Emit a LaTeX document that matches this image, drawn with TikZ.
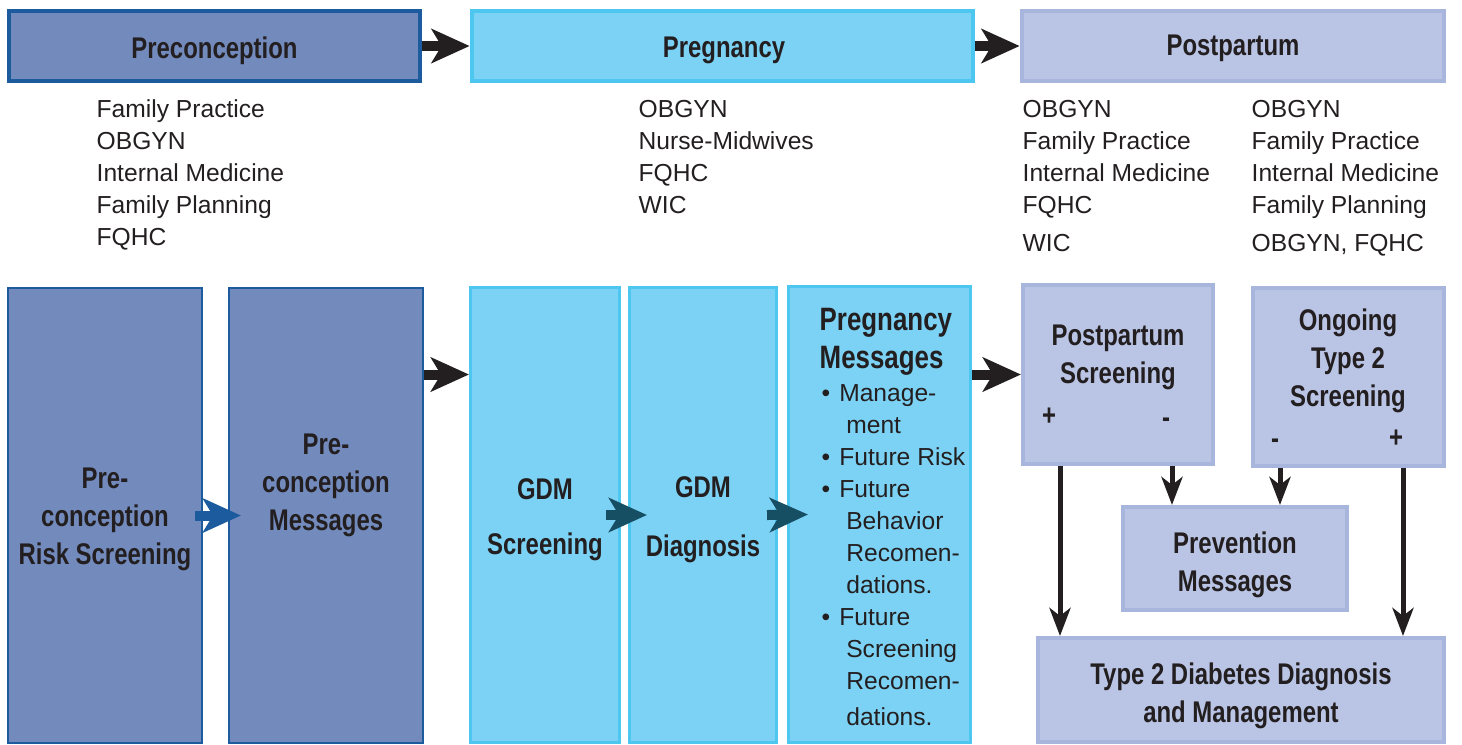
\documentclass[tikz,border=0pt]{standalone}
\usepackage{fontspec}
\setmainfont{Liberation Sans}
\newfontfamily\headfont{Liberation Sans}[FakeStretch=0.8]
\usetikzlibrary{arrows.meta}

\definecolor{preline}{HTML}{1C5C9E}
\definecolor{prefill}{HTML}{738ABD}
\definecolor{pregline}{HTML}{4DC6F0}
\definecolor{pregfill}{HTML}{7CD2F4}
\definecolor{postline}{HTML}{A8B5DC}
\definecolor{postfill}{HTML}{BAC4E4}
\definecolor{ink}{HTML}{231F20}
\definecolor{tealarrow}{HTML}{164F63}

\newcommand\itm{\makebox[5pt][l]{\textbullet}}
\newcommand\cnt{\hspace*{7pt}}

\tikzset{
	box/.style={draw, rectangle, inner sep=0pt},
	prebox/.style={box, draw=preline, fill=prefill},
	pregbox/.style={box, draw=pregline, fill=pregfill},
	postbox/.style={box, draw=postline, fill=postfill},
	title/.style={inner sep=0pt, align=center, text=ink, yshift=-0.035cm,
		font=\headfont\bfseries\fontsize{8.5}{10.8}\selectfont},
	list/.style={anchor=north west, inner sep=0pt, align=left, text=ink,
		font=\fontsize{7}{9.1}\selectfont},
	fatarrow/.style={-{Stealth[length=0.38cm,width=0.34cm,inset=0.1cm]}, line width=0.1cm},
	downarrow/.style={-{Stealth[length=0.28cm,width=0.21cm,inset=0.08cm]}, line width=0.05cm, ink}
}

\begin{document}
\begin{tikzpicture}[x=0.01cm, y=-0.01cm]
	\useasboundingbox (0,0) rectangle (1462,744);

	% phase headers
	\node[prebox, line width=0.045cm, minimum width=4.11cm, minimum height=0.70cm] (prehead) at (214.5,46) {};
	\node[pregbox, line width=0.045cm, minimum width=5.01cm, minimum height=0.70cm] (preghead) at (722.5,46) {};
	\node[postbox, line width=0.045cm, minimum width=4.22cm, minimum height=0.70cm] (posthead) at (1233,46) {};
	\node[title] (prehtxt) at (214.5,47) {Preconception};
	\node[title] (preghtxt) at (724,47) {Pregnancy};
	\node[title] (posthtxt) at (1233,45) {Postpartum};
	\draw[fatarrow, ink] (prehead) -- (preghead);
	\draw[fatarrow, ink] (preghead) -- (posthead);

	% providers
	\node[list] (prelist) at (96,99) {Family Practice\\OBGYN\\Internal Medicine\\Family Planning\\FQHC};
	\node[list] (preglist) at (638,100) {OBGYN\\Nurse-Midwives\\FQHC\\WIC};
	\node[list] (postlista) at (1022,100) {OBGYN\\Family Practice\\Internal Medicine\\FQHC\\[1.7pt]WIC};
	\node[list] (postlistb) at (1251,100) {OBGYN\\Family Practice\\Internal Medicine\\Family Planning\\[1.7pt]OBGYN, FQHC};

	% preconception
	\node[prebox, line width=0.02cm, minimum width=1.94cm, minimum height=4.55cm] (risk) at (105,515.5) {};
	\node[prebox, line width=0.02cm, minimum width=1.94cm, minimum height=4.55cm] (premsg) at (326,515.5) {};
	\node[title] (risktxt) at (105,516) {Pre-\\conception\\Risk Screening};
	\node[title] (premsgtxt) at (326,482) {Pre-\\conception\\Messages};
	\draw[fatarrow, preline] ([xshift=-0.08cm]risk.east) -- ([xshift=0.13cm]premsg.west);

	% pregnancy
	\node[pregbox, line width=0.03cm, minimum width=1.49cm, minimum height=4.55cm] (gdms) at (545,515) {};
	\node[pregbox, line width=0.03cm, minimum width=1.47cm, minimum height=4.55cm] (gdmd) at (703,515) {};
	\node[pregbox, line width=0.03cm, minimum width=1.82cm, minimum height=4.56cm] (pregmsg) at (879.5,514.5) {};
	\node[title] (gdmstxt) at (545,516) {GDM\\[5pt]Screening};
	\node[title] (gdmdtxt) at (703,516.5) {GDM\\[6pt]Diagnosis};
	\node[title, anchor=north west, align=left, yshift=0.035cm,
		font=\headfont\bfseries\fontsize{9.2}{10.8}\selectfont] (pmtitle) at (819,308) {Pregnancy\\Messages};
	\node[list] (pmitems) at (821,384) {\itm Manage-\\\cnt ment\\\itm Future Risk\\\itm Future\\\cnt Behavior\\\cnt Recomen-\\\cnt dations.\\\itm Future\\\cnt Screening\\\cnt Recomen-\\[1pt]\cnt dations.};
	\draw[fatarrow, tealarrow] ([xshift=-0.15cm]gdms.east) -- ([xshift=0.19cm]gdmd.west);
	\draw[fatarrow, tealarrow] ([xshift=-0.11cm]gdmd.east) -- ([xshift=0.21cm]pregmsg.west);

	% postpartum
	\node[postbox, line width=0.04cm, minimum width=1.90cm, minimum height=1.79cm] (ppscr) at (1118,374.5) {};
	\node[postbox, line width=0.04cm, minimum width=1.91cm, minimum height=1.78cm] (ongo) at (1348.5,377) {};
	\node[postbox, line width=0.04cm, minimum width=2.24cm, minimum height=1.03cm] (prev) at (1235,558.5) {};
	\node[postbox, line width=0.04cm, minimum width=4.06cm, minimum height=1.04cm] (t2d) at (1241,690) {};
	\node[title] (pptxt) at (1118,354) {Postpartum\\Screening};
	\node[title] (ppplus) at (1049,413) {+};
	\node[title] (ppminus) at (1166,419) {-};
	\node[title] (ongotxt) at (1348,357) {Ongoing\\Type 2\\Screening};
	\node[title] (ongominus) at (1275,440) {-};
	\node[title] (ongoplus) at (1396,435) {+};
	\node[title] (prevtxt) at (1235,561) {Prevention\\Messages};
	\node[title] (t2dtxt) at (1241,692) {Type 2 Diabetes Diagnosis\\and Management};

	\draw[fatarrow, ink] (premsg.east |- ppscr.west) -- (gdms.west |- ppscr.west);
	\draw[fatarrow, ink] (pregmsg.east |- ppscr.west) -- (ppscr.west);
	\draw[downarrow] ([xshift=0.11cm]ppplus |- ppscr.south) -- ([xshift=0.11cm]ppplus |- t2d.north);
	\draw[downarrow] ([xshift=0.06cm]ppminus |- ppscr.south) -- ([xshift=0.06cm]ppminus |- prev.north);
	\draw[downarrow] ([xshift=0.05cm]ongominus |- ongo.south) -- ([xshift=0.05cm]ongominus |- prev.north);
	\draw[downarrow] ([xshift=0.07cm]ongoplus |- ongo.south) -- ([xshift=0.07cm]ongoplus |- t2d.north);
\end{tikzpicture}
\end{document}
